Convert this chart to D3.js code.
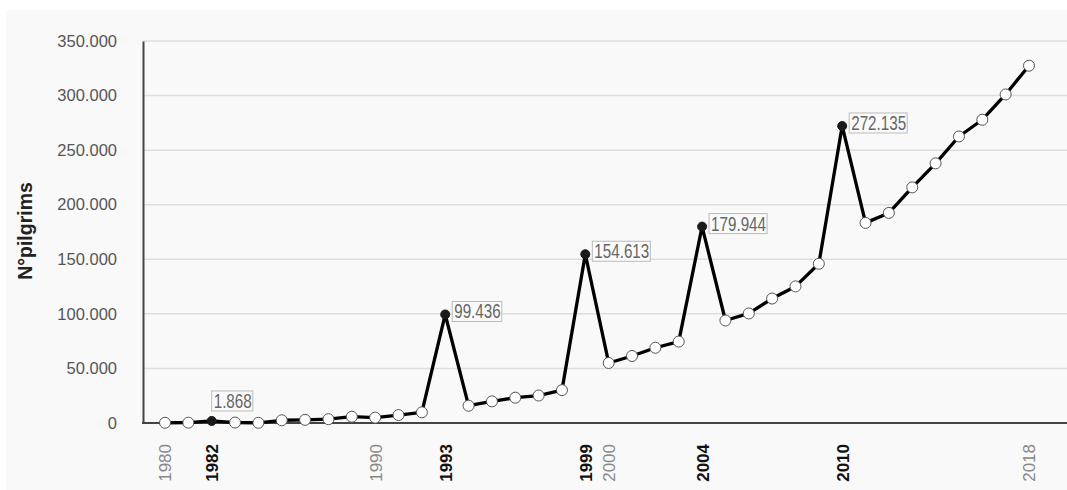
<!DOCTYPE html>
<html>
<head>
<meta charset="utf-8">
<script src="https://cdn.jsdelivr.net/npm/d3@7"></script>
<style>
  html, body { margin: 0; padding: 0; background: #ffffff; }
  body { font-family: "Liberation Sans", Arial, sans-serif; }
  .grid line { stroke: #dedede; stroke-width: 1.5; }
  .axis path, .axis line { stroke: #444; }
</style>
</head>
<body>
<div id="chart"></div>
<script>
// Years shown on the chart (one year between 1982 and 1990 is missing in the source).
const years = ['1980', '1981', '1982', '1984', '1985', '1986', '1987', '1988', '1989', '1990',
  '1991', '1992', '1993', '1994', '1995', '1996', '1997', '1998', '1999', '2000',
  '2001', '2002', '2003', '2004', '2005', '2006', '2007', '2008', '2009', '2010',
  '2011', '2012', '2013', '2014', '2015', '2016', '2017', '2018'];

// Number of pilgrims per year.
const pilgrims = [209, 299, 1868, 423, 200, 2500, 2905, 3501, 5760, 4918,
  7274, 9764, 99436, 15863, 19821, 23218, 25179, 30126, 154613, 55004,
  61418, 68952, 74614, 179944, 93924, 100377, 114026, 125141, 145877, 272135,
  183366, 192488, 215880, 237886, 262516, 277854, 301036, 327378];

// Holy years: highlighted in the chart.
const holyYears = ['1982', '1993', '1999', '2004', '2010'];

// Year labels on the x axis.
const xTickLabels = ['1980', '1982', '1990', '1993', '1999', '2000', '2004', '2010', '2018'];

// Y axis ticks.
const yTicks = [0, 50000, 100000, 150000, 200000, 250000, 300000, 350000];

const imageWidth = 1067;
const imageHeight = 490;
const margin = {
  top: 41, right: 0, bottom: 66, left: 143,
};
const width = imageWidth - margin.left - margin.right;
const height = imageHeight - margin.top - margin.bottom;

// Spanish style number format: 350.000
const locale = d3.formatLocale({
  decimal: ',', thousands: '.', grouping: [3], currency: ['', '€'],
});
const fmt = locale.format(',d');

const data = years.map((year, i) => ({ year, value: pilgrims[i] }));

const svg = d3.select('#chart').append('svg')
  .attr('width', imageWidth)
  .attr('height', imageHeight);

// light gray panel behind the chart
svg.append('rect')
  .attr('x', 6)
  .attr('y', 10)
  .attr('width', imageWidth - 6)
  .attr('height', imageHeight - 10)
  .attr('fill', '#f9f9f9');

const g = svg.append('g')
  .attr('transform', `translate(${margin.left},${margin.top})`);

const x = d3.scalePoint()
  .domain(years)
  .range([165 - margin.left, 1029 - margin.left]);

const y = d3.scaleLinear()
  .domain([0, 350000])
  .range([height - 1, 0]);

// Horizontal grid lines.
g.append('g')
  .attr('class', 'grid')
  .selectAll('line')
  .data(yTicks.slice(1))
  .join('line')
  .attr('x1', 0)
  .attr('x2', width)
  .attr('y1', (d) => y(d))
  .attr('y2', (d) => y(d));

// Y axis.
const yAxis = d3.axisLeft(y).tickValues(yTicks).tickSize(0).tickPadding(26)
  .tickFormat(fmt);
g.append('g')
  .attr('class', 'axis y')
  .call(yAxis)
  .call((sel) => sel.select('.domain').attr('stroke-width', 2))
  .selectAll('text')
  .attr('fill', '#555')
  .style('font-size', '16.5px')
  .style('font-family', '"Liberation Sans", Arial, sans-serif');

// X axis.
const xAxis = d3.axisBottom(x).tickValues(xTickLabels).tickSize(0);
const xg = g.append('g')
  .attr('class', 'axis x')
  .attr('transform', `translate(0,${height - 1})`)
  .call(xAxis);
xg.select('.domain')
  .attr('d', `M${-1},0H${width}`)
  .attr('stroke-width', 2);
xg.selectAll('text')
  .attr('transform', 'rotate(-90)')
  .attr('x', -21)
  .attr('y', 0)
  .attr('dy', '0.35em')
  .attr('text-anchor', 'end')
  .style('font-size', '17px')
  .style('font-family', '"Liberation Sans", Arial, sans-serif')
  .style('font-weight', (d) => (holyYears.includes(d) ? 'bold' : 'normal'))
  .attr('fill', (d) => (holyYears.includes(d) ? '#111' : '#888'));

// Y label.
svg.append('text')
  .attr('transform', 'rotate(-90)')
  .attr('x', -231)
  .attr('y', 25)
  .attr('dy', '0.35em')
  .attr('text-anchor', 'middle')
  .style('font-size', '19.5px')
  .style('font-weight', 'bold')
  .attr('fill', '#222')
  .text('N°pilgrims');

// The line.
const line = d3.line()
  .x((d) => x(d.year))
  .y((d) => y(d.value));
g.append('path')
  .datum(data)
  .attr('fill', 'none')
  .attr('stroke', '#000')
  .attr('stroke-width', 3.3)
  .attr('stroke-linejoin', 'round')
  .attr('d', line);

// Markers: open circles for normal years, filled for holy years.
g.selectAll('.dot')
  .data(data)
  .join('circle')
  .attr('class', 'dot')
  .attr('cx', (d) => x(d.year))
  .attr('cy', (d) => y(d.value))
  .attr('r', (d) => (holyYears.includes(d.year) ? 4.5 : 5.5))
  .attr('fill', (d) => (holyYears.includes(d.year) ? '#1a1a1a' : '#fff'))
  .attr('stroke', (d) => (holyYears.includes(d.year) ? '#1a1a1a' : '#555'))
  .attr('stroke-width', 1);

// Value labels for the holy years (condensed, tall text in a thin box).
const squeeze = 0.76;
const labels = g.selectAll('.label')
  .data(data.filter((d) => holyYears.includes(d.year)))
  .join('g')
  .attr('class', 'label')
  .attr('transform', (d) => {
    const px = x(d.year);
    const py = y(d.value);
    // small values sit above the point, the rest to its right
    if (d.value < 10000) return `translate(${px},${py - 30})`;
    return `translate(${px + 7},${py - 13})`;
  });

labels.append('text')
  .attr('transform', `translate(2,17) scale(${squeeze},1)`)
  .attr('fill', '#666')
  .style('font-size', '20px')
  .text((d) => fmt(d.value));

labels.each(function addBox() {
  const sel = d3.select(this);
  const bb = sel.select('text').node().getBBox();
  sel.insert('rect', 'text')
    .attr('x', 0)
    .attr('y', 0)
    .attr('width', bb.width * squeeze + 3)
    .attr('height', 20)
    .attr('fill', '#fafafa')
    .attr('stroke', '#bbb')
    .attr('stroke-width', 1);
});
</script>
</body>
</html>
